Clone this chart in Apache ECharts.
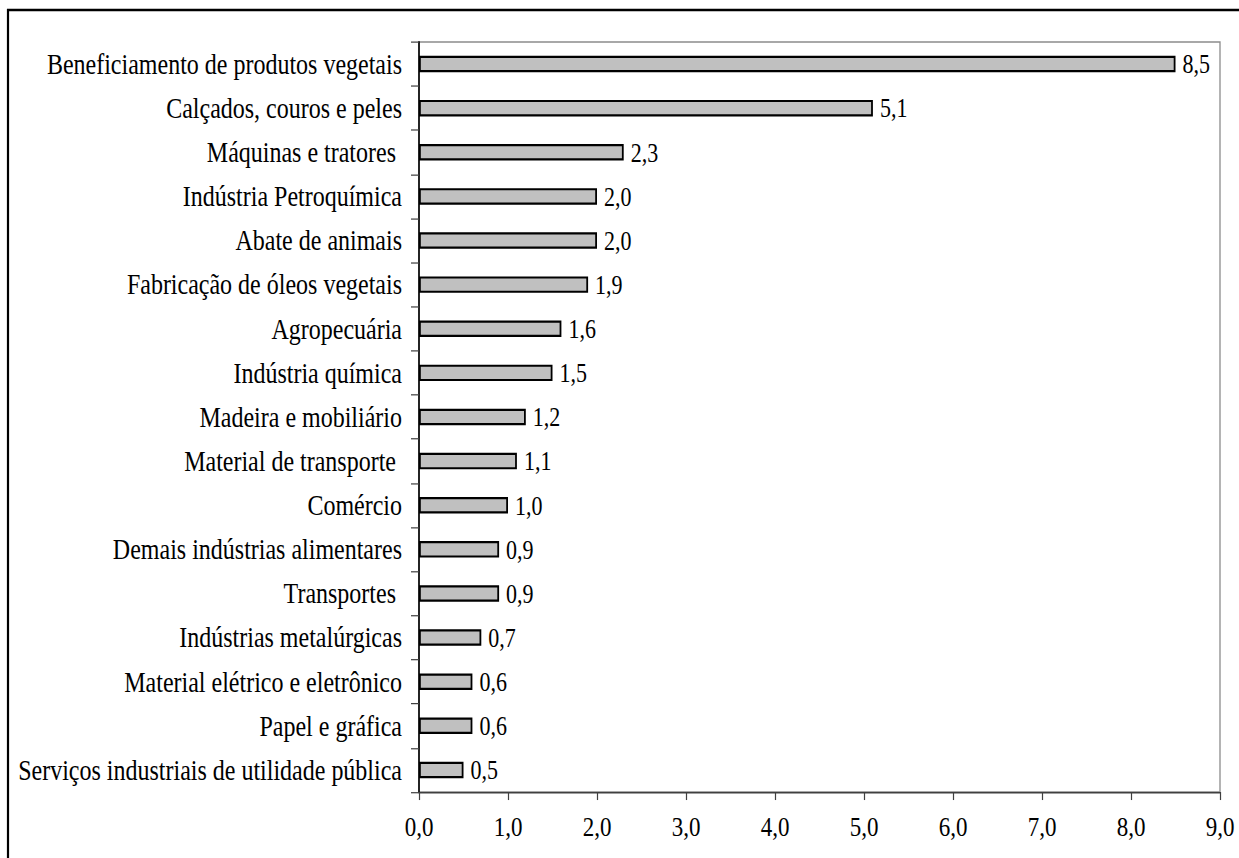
<!DOCTYPE html>
<html>
<head>
<meta charset="utf-8">
<script src="https://cdn.jsdelivr.net/npm/echarts@6/dist/echarts.min.js"></script>
<style>
  html, body { margin: 0; padding: 0; background: #ffffff; overflow: hidden; }
  #frame { width: 1239px; height: 858px; overflow: hidden; }
  /* the chart is laid out in a shorter box and stretched vertically,
     giving the tall serif lettering of the printed figure */
  #chart { width: 1239px; height: 703px; transform-origin: 0 0; transform: scaleY(1.2205); }
</style>
</head>
<body>
<div id="frame"><div id="chart"></div></div>
<script>
// Sectors, listed top to bottom
const categories = [
  'Beneficiamento de produtos vegetais',
  'Calçados, couros e peles',
  'Máquinas e tratores ',
  'Indústria Petroquímica',
  'Abate de animais',
  'Fabricação de óleos vegetais',
  'Agropecuária',
  'Indústria química',
  'Madeira e mobiliário',
  'Material de transporte ',
  'Comércio',
  'Demais indústrias alimentares',
  'Transportes ',
  'Indústrias metalúrgicas',
  'Material elétrico e eletrônico',
  'Papel e gráfica',
  'Serviços industriais de utilidade pública'
];

// Value per sector
const values = [8.5, 5.1, 2.3, 2.0, 2.0, 1.9, 1.6, 1.5, 1.2, 1.1, 1.0, 0.9, 0.9, 0.7, 0.6, 0.6, 0.5];

// Value axis range and step
const axisMin = 0;
const axisMax = 9;
const axisStep = 1;

const fmt = v => Number(v).toFixed(1).replace('.', ',');
const serif = '"Liberation Serif", "Times New Roman", serif';

const chart = echarts.init(document.getElementById('chart'), null, { renderer: 'svg' });

chart.setOption({
  animation: false,
  backgroundColor: '#ffffff',
  textStyle: { fontFamily: serif, color: '#000000' },
  grid: {
    left: 419,
    right: 19,
    top: 34.4,
    bottom: 54.1,
    containLabel: false,
    show: true,
    borderColor: '#8c8c8c',
    borderWidth: 1.3,
    backgroundColor: 'transparent'
  },
  xAxis: {
    type: 'value',
    min: axisMin,
    max: axisMax,
    interval: axisStep,
    axisLine: { show: true, lineStyle: { color: '#404040', width: 1.3 } },
    axisTick: { show: true, length: 6.6, inside: false, lineStyle: { color: '#404040', width: 1.2 } },
    splitLine: { show: false },
    axisLabel: {
      formatter: fmt,
      fontFamily: serif,
      fontSize: 23,
      color: '#000000',
      margin: 17
    }
  },
  yAxis: {
    type: 'category',
    data: categories,
    inverse: true,
    axisLine: { show: true, lineStyle: { color: '#000000', width: 1.6 } },
    axisTick: { show: true, length: 8, alignWithLabel: false, lineStyle: { color: '#404040', width: 1.0 } },
    axisLabel: {
      fontFamily: serif,
      fontSize: 24,
      color: '#000000',
      margin: 17,
      interval: 0
    }
  },
  series: [{
    type: 'bar',
    data: values,
    barWidth: 13.5,
    itemStyle: { color: '#c0c0c0', borderColor: '#000000', borderWidth: 1.8 },
    label: {
      show: true,
      position: 'right',
      distance: 7,
      formatter: p => fmt(p.value),
      fontFamily: serif,
      fontSize: 22,
      color: '#000000'
    }
  }],
  graphic: [{
    type: 'rect',
    silent: true,
    z: 100,
    shape: { x: 8, y: 8.2, width: 1400, height: 1000 },
    style: { fill: 'none', stroke: '#000000', lineWidth: 2.2 }
  }]
});
</script>
</body>
</html>
